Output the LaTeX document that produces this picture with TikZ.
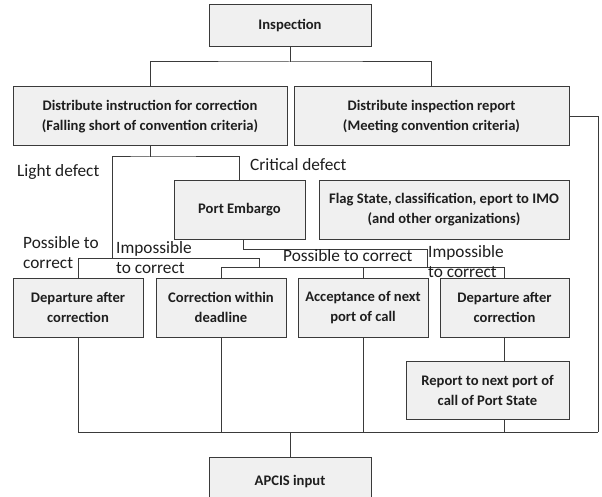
\documentclass[tikz,border=0pt]{standalone}
\usepackage{fontspec}
\setmainfont{Carlito}
\definecolor{boxfill}{HTML}{F0F0F0}
\definecolor{edge}{HTML}{3A3A3A}
\definecolor{txt}{HTML}{1E1E1E}
\begin{document}
\begin{tikzpicture}[x=1pt,y=-1pt,
  box/.style={draw=edge, fill=boxfill, line width=1pt, text=txt,
    font=\bfseries\fontsize{14.6}{20}\selectfont, align=center, inner sep=0pt},
  conn/.style={draw=edge, line width=1pt},
  lbl/.style={text=txt, font=\fontsize{17.3}{20}\selectfont, align=left,
    inner sep=0pt, anchor=west}]
\clip (0,0) rectangle (602,497);
\fill[white] (0,0) rectangle (602,497);
% boxes
\node[box, minimum width=162pt, minimum height=42pt] (insp) at (290,26) {Inspection};
\node[box, minimum width=274pt, minimum height=59pt] (dinst) at (150,116.5)
  {Distribute instruction for correction\\(Falling short of convention criteria)};
\node[box, minimum width=275pt, minimum height=59pt] (drep) at (431.5,116.5)
  {Distribute inspection report\\(Meeting convention criteria)};
\node[box, minimum width=131pt, minimum height=58pt] (pe) at (239.5,210) {Port Embargo};
\node[box, minimum width=250pt, minimum height=58pt] (flag) at (444,210)
  {Flag State, classification, eport to IMO\\(and other organizations)};
\node[box, minimum width=130pt, minimum height=59pt] (dep1) at (78,307.5) {Departure after\\correction};
\node[box, minimum width=130pt, minimum height=59pt] (corr) at (221,307.5) {Correction within\\deadline};
\node[box, minimum width=130pt, minimum height=59pt] (acc) at (363,307.5) {Acceptance of next\\port of call};
\node[box, minimum width=129pt, minimum height=59pt] (dep2) at (504.5,307.5) {Departure after\\correction};
\node[box, minimum width=163pt, minimum height=58pt] (rep) at (487.5,390) {Report to next port of\\call of Port State};
\node[box, minimum width=162pt, minimum height=50pt] (apcis) at (290,482) {APCIS input};
% top connectors
\coordinate (j1) at (290,62);
\draw[conn] (insp.south) -- (j1);
\draw[conn] (dinst.north) |- (j1) -| (drep.north);
% right return line and bottom collector
\coordinate (rc) at (598,432);
\draw[conn] (drep.east) -| (rc);
\draw[conn] (dep1.south) |- (rc);
\draw[conn] (corr.south) -- (corr.south |- rc);
\draw[conn] (acc.south) -- (acc.south |- rc);
\draw[conn] (dep2.south) -- (dep2.south |- rep.north);
\draw[conn] (dep2.south |- rep.south) -- (dep2.south |- rc);
\draw[conn] (apcis.north) -- (apcis.north |- rc);
% defect split
\coordinate (j2) at (150,157);
\coordinate (ld) at (112,258);
\draw[conn] (dinst.south) -- (j2);
\draw[conn] (ld) |- (j2) -| (pe.north);
% light defect branch
\coordinate (lA) at (259,258);
\coordinate (lB) at (259,267);
\draw[conn] (dep1.north) |- (lA) -- (lB);
% lower distribution line
\draw[conn] (corr.north) |- (dep2.north |- lB) -- (dep2.north);
\draw[conn] (acc.north) -- (acc.north |- lB);
% port embargo branch
\coordinate (p1) at (243,249);
\coordinate (p2) at (427,249);
\draw[conn] (pe.south -| p1) -- (p1) -- (p2) -- (p2 |- lB);
% labels
\node[lbl] (lLight) at (17,172) {Light defect};
\node[lbl] (lCrit) at (250,165) {Critical defect};
\node[lbl] (lPos1) at (23,253) {Possible to\\correct};
\node[lbl] (lImp1) at (116,258) {Impossible\\to correct};
\node[lbl] (lPos2) at (283,256) {Possible to correct};
\node[lbl] (lImp2) at (428,262) {Impossible\\to correct};
\end{tikzpicture}
\end{document}
